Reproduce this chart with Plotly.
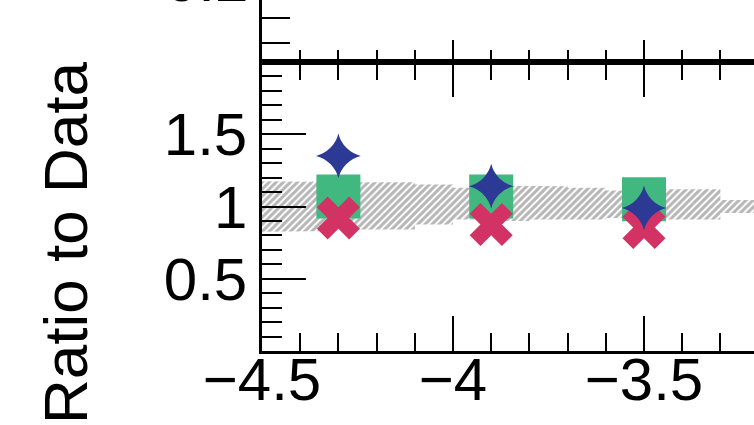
import plotly.graph_objects as go

# ---------------- data ----------------
x_points = [-4.3, -3.9, -3.5]
ratio_blue = [1.35, 1.14, 0.99]
ratio_green = [1.07, 1.07, 1.05]
ratio_red = [0.92, 0.875, 0.855]

band_edges = [-4.5, -4.4, -4.3, -4.2, -4.1, -4.0, -3.9, -3.8, -3.7, -3.6, -3.5, -3.4, -3.3, -3.2, -3.1]
band_hi = [1.174, 1.17, 1.167, 1.167, 1.153, 1.13, 1.145, 1.14, 1.13, 1.11, 1.12, 1.12, 1.045, 1.045]
band_lo = [0.826, 0.83, 0.84, 0.84, 0.875, 0.91, 0.90, 0.91, 0.91, 0.92, 0.91, 0.91, 0.955, 0.955]

ratio_ticks = [0.5, 1, 1.5]
ratio_tick_text = ["0.5", "1", "1.5"]
top_ticks = [0.16, 0.18]

FONT = "Liberation Sans, Arial, sans-serif"
FS = 60

# step band polygon built from the bins
bx, by = [], []
for i in range(len(band_hi)):
    bx += [band_edges[i], band_edges[i + 1]]
    by += [band_hi[i], band_hi[i]]
for i in reversed(range(len(band_lo))):
    bx += [band_edges[i + 1], band_edges[i]]
    by += [band_lo[i], band_lo[i]]
bx.append(bx[0])
by.append(by[0])

fig = go.Figure()
fig.add_trace(go.Scatter(
    x=bx, y=by, mode="lines", fill="toself",
    line=dict(width=0, color="rgba(0,0,0,0)"),
    fillcolor="rgba(0,0,0,0)",
    fillpattern=dict(shape="/", fgcolor="#6e6e6e", bgcolor="rgba(255,255,255,0)",
                     size=5, solidity=0.6),
    hoverinfo="skip", showlegend=False, xaxis="x", yaxis="y"))

fig.add_trace(go.Scatter(
    x=x_points, y=ratio_green, mode="markers",
    marker=dict(symbol="square", size=44, color="#40b880", line=dict(width=0)),
    showlegend=False, xaxis="x", yaxis="y"))
fig.add_trace(go.Scatter(
    x=x_points, y=ratio_red, mode="markers",
    marker=dict(symbol="x", size=38, color="#d23264", line=dict(width=0)),
    showlegend=False, xaxis="x", yaxis="y"))
fig.add_trace(go.Scatter(
    x=x_points, y=ratio_blue, mode="markers",
    marker=dict(symbol="star-diamond", size=32, color="#2c3a95", line=dict(width=0)),
    showlegend=False, xaxis="x", yaxis="y"))

# empty trace so the upper panel exists
fig.add_trace(go.Scatter(x=[None], y=[None], mode="markers", showlegend=False,
                         xaxis="x2", yaxis="y2", hoverinfo="skip"))

x_range = [-4.5, -3.212]
split = 289 / 351

axis_common = dict(showline=True, linecolor="black", linewidth=2.5, automargin=False,
                   showgrid=False, zeroline=False, tickcolor="black")

fig.update_layout(
    width=754, height=425,
    margin=dict(l=262, r=0, t=0, b=74, autoexpand=False),
    paper_bgcolor="white", plot_bgcolor="white",
    font=dict(family=FONT, size=FS, color="black"),
    xaxis=dict(**axis_common, domain=[0, 1], anchor="y", range=x_range,
               tickmode="linear", tick0=-4.5, dtick=0.5,
               ticks="inside", ticklen=35, tickwidth=2, mirror="ticks",
               minor=dict(tickmode="linear", tick0=-4.5, dtick=0.1, ticks="inside",
                          ticklen=18, tickwidth=2, tickcolor="black"),
               tickfont=dict(family=FONT, size=FS, color="black"),
               ticklabelstandoff=-26),
    yaxis=dict(**axis_common, domain=[0, split], anchor="x", range=[0, 2.0],
               tickmode="array", tickvals=ratio_ticks, ticktext=ratio_tick_text,
               ticks="inside", ticklen=44, tickwidth=2,
               minor=dict(tickmode="linear", tick0=0, dtick=0.1, ticks="inside",
                          ticklen=20, tickwidth=2, tickcolor="black"),
               tickfont=dict(family=FONT, size=FS, color="black"),
               ticklabelstandoff=0),
    xaxis2=dict(**axis_common, domain=[0, 1], anchor="y2", range=x_range,
                tickmode="linear", tick0=-4.5, dtick=0.5,
                ticks="inside", ticklen=22, tickwidth=2, showticklabels=False,
                minor=dict(tickmode="linear", tick0=-4.5, dtick=0.1, ticks="inside",
                           ticklen=12, tickwidth=2, tickcolor="black")),
    yaxis2=dict(**axis_common, domain=[split, 1], anchor="x2", range=[0.1444, 0.194],
                tickmode="array", tickvals=top_ticks, showticklabels=False,
                ticks="inside", ticklen=28, tickwidth=2),
)

# partially visible upper-panel tick label and y-axis title
fig.add_annotation(text="0.2", xref="paper", yref="paper",
                   x=-12 / 492, y=(351 + 19) / 351, xanchor="right", yanchor="middle",
                   showarrow=False, font=dict(family=FONT, size=FS, color="black"))
fig.add_annotation(text="Ratio to Data", xref="paper", yref="paper",
                   x=(65 - 262) / 492, y=(351 - 243) / 351, xanchor="center", yanchor="middle",
                   textangle=-90, showarrow=False,
                   font=dict(family=FONT, size=62, color="black"))

fig.write_html("out.html")
